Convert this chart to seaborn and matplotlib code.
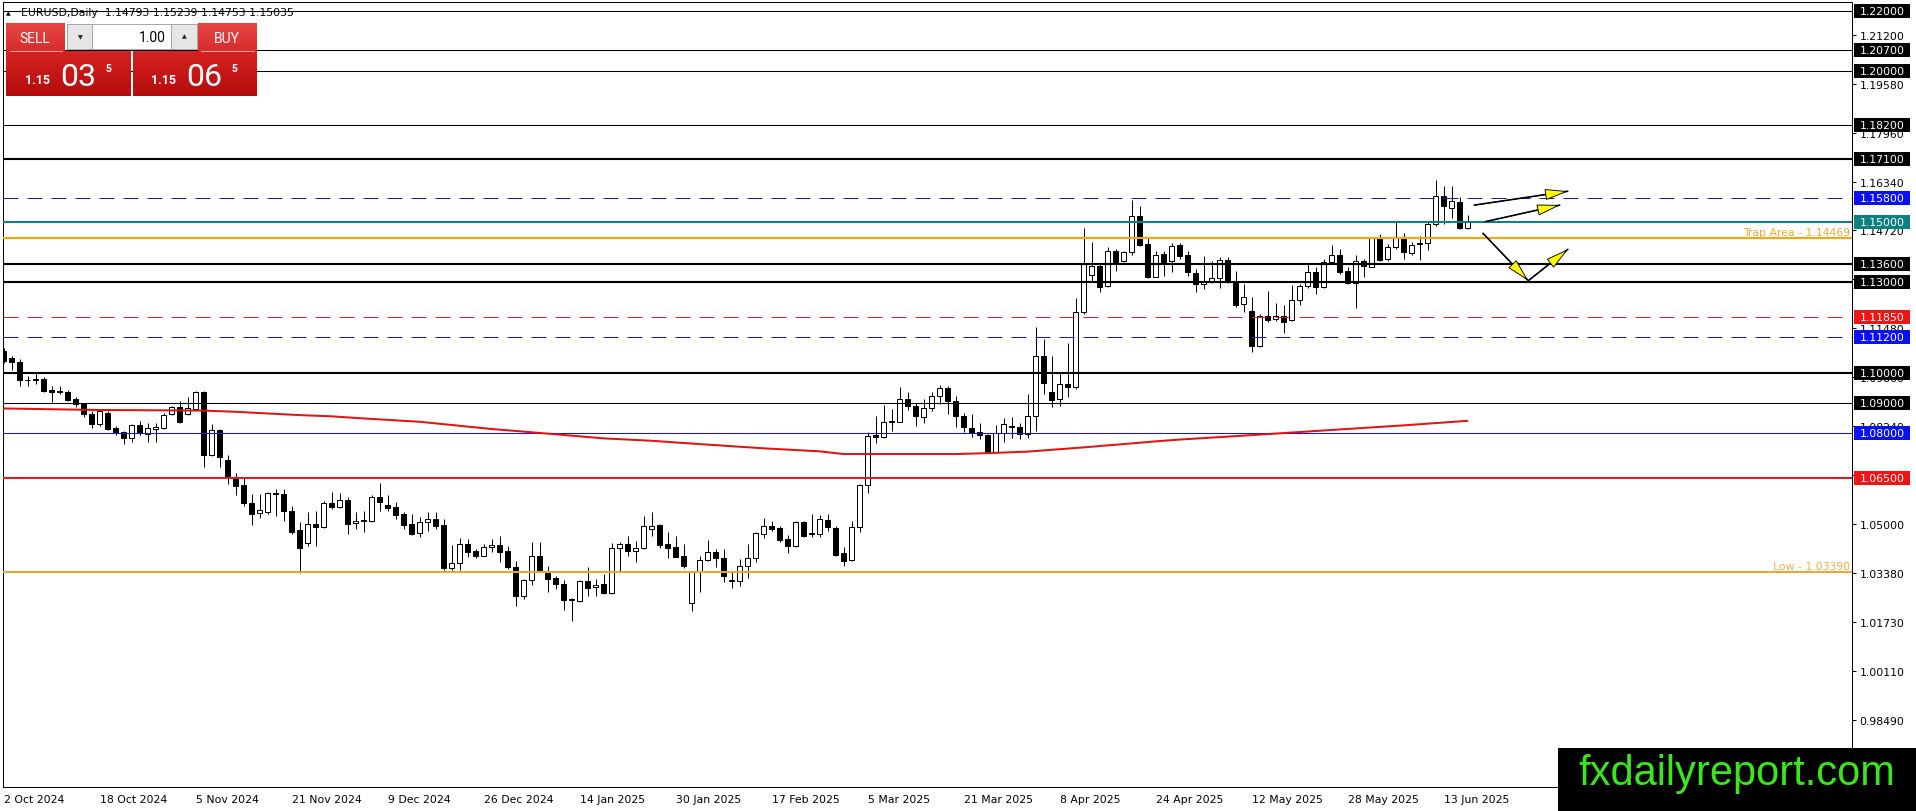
import numpy as np
import pandas as pd
import seaborn as sns
import matplotlib.pyplot as plt
from matplotlib.patches import Rectangle
from matplotlib.colors import LinearSegmentedColormap
import matplotlib.transforms as mtransforms

# ---- chart data (EURUSD daily, 2 Oct 2024 - 18 Jun 2025) ----
opens = [1.1074, 1.1048, 1.1035, 1.0977, 1.0976, 1.0979, 1.0943, 1.0939, 1.0938, 1.0913,
         1.0896, 1.0864, 1.0830, 1.0867, 1.0817, 1.0803, 1.0783, 1.0828, 1.0796, 1.0814,
         1.0816, 1.0864, 1.0886, 1.0864, 1.0880, 1.0935, 1.0729, 1.0811, 1.0711, 1.0656,
         1.0628, 1.0569, 1.0534, 1.0538, 1.0601, 1.0599, 1.0543, 1.0479, 1.0435, 1.0499,
         1.0490, 1.0569, 1.0554, 1.0579, 1.0501, 1.0509, 1.0510, 1.0588, 1.0562, 1.0555,
         1.0532, 1.0499, 1.0468, 1.0505, 1.0516, 1.0496, 1.0355, 1.0369, 1.0432, 1.0410,
         1.0394, 1.0422, 1.0430, 1.0410, 1.0356, 1.0262, 1.0312, 1.0392, 1.0345, 1.0321,
         1.0301, 1.0248, 1.0245, 1.0309, 1.0290, 1.0301, 1.0271, 1.0419, 1.0432, 1.0411,
         1.0419, 1.0481, 1.0496, 1.0433, 1.0422, 1.0392, 1.0237, 1.0339, 1.0381, 1.0405,
         1.0385, 1.0310, 1.0309, 1.0361, 1.0385, 1.0466, 1.0494, 1.0486, 1.0450, 1.0425,
         1.0505, 1.0468, 1.0466, 1.0513, 1.0485, 1.0403, 1.0381, 1.0488, 1.0628, 1.0794,
         1.0786, 1.0838, 1.0838, 1.0915, 1.0889, 1.0853, 1.0882, 1.0924, 1.0949, 1.0908,
         1.0856, 1.0816, 1.0803, 1.0794, 1.0739, 1.0801, 1.0825, 1.0819, 1.0797, 1.0856,
         1.1055, 1.0938, 1.0915, 1.0963, 1.0952, 1.1203, 1.1324, 1.1353, 1.1287, 1.1403,
         1.1369, 1.1399, 1.1519, 1.1427, 1.1319, 1.1394, 1.1370, 1.1424, 1.1390, 1.1330,
         1.1293, 1.1306, 1.1315, 1.1374, 1.1306, 1.1227, 1.1205, 1.1088, 1.1188, 1.1179,
         1.1190, 1.1175, 1.1243, 1.1287, 1.1333, 1.1283, 1.1368, 1.1390, 1.1336, 1.1298,
         1.1372, 1.1352, 1.1446, 1.1377, 1.1418, 1.1448, 1.1397, 1.1427, 1.1430, 1.1493,
         1.1587, 1.1545, 1.1567, 1.14793]
highs = [1.1083, 1.1057, 1.1046, 1.0991, 1.1002, 1.0985, 1.0958, 1.0958, 1.0942, 1.0919,
         1.0900, 1.0875, 1.0878, 1.0875, 1.0825, 1.0808, 1.0830, 1.0842, 1.0833, 1.0833,
         1.0866, 1.0890, 1.0908, 1.0919, 1.0941, 1.0941, 1.0831, 1.0814, 1.0729, 1.0668,
         1.0654, 1.0599, 1.0599, 1.0604, 1.0615, 1.0615, 1.0560, 1.0505, 1.0538, 1.0543,
         1.0577, 1.0604, 1.0601, 1.0588, 1.0538, 1.0543, 1.0595, 1.0634, 1.0596, 1.0571,
         1.0540, 1.0532, 1.0524, 1.0538, 1.0538, 1.0516, 1.0428, 1.0452, 1.0450, 1.0416,
         1.0433, 1.0450, 1.0461, 1.0427, 1.0378, 1.0318, 1.0438, 1.0438, 1.0359, 1.0328,
         1.0315, 1.0253, 1.0314, 1.0356, 1.0317, 1.0334, 1.0436, 1.0438, 1.0461, 1.0444,
         1.0525, 1.0538, 1.0499, 1.0472, 1.0461, 1.0433, 1.0345, 1.0394, 1.0446, 1.0416,
         1.0416, 1.0339, 1.0383, 1.0433, 1.0472, 1.0518, 1.0510, 1.0494, 1.0463, 1.0510,
         1.0510, 1.0532, 1.0528, 1.0532, 1.0494, 1.0422, 1.0510, 1.0632, 1.0803, 1.0858,
         1.0893, 1.0880, 1.0952, 1.0938, 1.0900, 1.0915, 1.0935, 1.0960, 1.0957, 1.0922,
         1.0867, 1.0864, 1.0834, 1.0797, 1.0827, 1.0849, 1.0853, 1.0834, 1.0930, 1.1153,
         1.1112, 1.1057, 1.1002, 1.1099, 1.1248, 1.1480, 1.1432, 1.1364, 1.1418, 1.1410,
         1.1405, 1.1574, 1.1552, 1.1446, 1.1403, 1.1405, 1.1430, 1.1430, 1.1405, 1.1344,
         1.1386, 1.1372, 1.1383, 1.1383, 1.1339, 1.1294, 1.1250, 1.1195, 1.1270, 1.1231,
         1.1225, 1.1291, 1.1294, 1.1364, 1.1350, 1.1377, 1.1423, 1.1412, 1.1350, 1.1391,
         1.1377, 1.1450, 1.1460, 1.1427, 1.1499, 1.1463, 1.1432, 1.1452, 1.1504, 1.1639,
         1.1620, 1.1620, 1.1583, 1.15239]
lows = [1.1032, 1.1011, 1.0955, 1.0958, 1.0963, 1.0935, 1.0904, 1.0930, 1.0907, 1.0886,
        1.0853, 1.0816, 1.0825, 1.0812, 1.0794, 1.0764, 1.0772, 1.0794, 1.0772, 1.0772,
        1.0814, 1.0860, 1.0834, 1.0860, 1.0878, 1.0687, 1.0726, 1.0689, 1.0632, 1.0596,
        1.0560, 1.0497, 1.0518, 1.0532, 1.0527, 1.0510, 1.0466, 1.0336, 1.0427, 1.0427,
        1.0485, 1.0549, 1.0552, 1.0466, 1.0483, 1.0472, 1.0507, 1.0543, 1.0543, 1.0515,
        1.0483, 1.0463, 1.0455, 1.0477, 1.0483, 1.0348, 1.0348, 1.0348, 1.0389, 1.0385,
        1.0392, 1.0405, 1.0374, 1.0350, 1.0226, 1.0250, 1.0297, 1.0339, 1.0273, 1.0284,
        1.0215, 1.0179, 1.0242, 1.0262, 1.0262, 1.0267, 1.0266, 1.0345, 1.0394, 1.0374,
        1.0416, 1.0461, 1.0419, 1.0385, 1.0389, 1.0352, 1.0212, 1.0273, 1.0378, 1.0356,
        1.0308, 1.0286, 1.0295, 1.0319, 1.0374, 1.0452, 1.0477, 1.0438, 1.0403, 1.0422,
        1.0455, 1.0455, 1.0455, 1.0477, 1.0394, 1.0361, 1.0378, 1.0474, 1.0602, 1.0767,
        1.0783, 1.0808, 1.0836, 1.0878, 1.0825, 1.0834, 1.0875, 1.0897, 1.0864, 1.0819,
        1.0803, 1.0786, 1.0781, 1.0737, 1.0737, 1.0770, 1.0783, 1.0781, 1.0783, 1.0808,
        1.0930, 1.0886, 1.0891, 1.0919, 1.0946, 1.1195, 1.1300, 1.1269, 1.1283, 1.1339,
        1.1366, 1.1390, 1.1421, 1.1313, 1.1316, 1.1320, 1.1333, 1.1377, 1.1322, 1.1269,
        1.1278, 1.1298, 1.1280, 1.1298, 1.1217, 1.1200, 1.1068, 1.1085, 1.1168, 1.1173,
        1.1132, 1.1172, 1.1225, 1.1280, 1.1261, 1.1280, 1.1366, 1.1327, 1.1295, 1.1214,
        1.1316, 1.1350, 1.1372, 1.1372, 1.1410, 1.1377, 1.1390, 1.1375, 1.1408, 1.1488,
        1.1493, 1.1512, 1.1478, 1.14753]
closes = [1.1040, 1.1035, 1.0977, 1.0976, 1.0978, 1.0941, 1.0935, 1.0938, 1.0911, 1.0896,
          1.0864, 1.0830, 1.0873, 1.0814, 1.0805, 1.0783, 1.0828, 1.0800, 1.0816, 1.0819,
          1.0861, 1.0886, 1.0836, 1.0883, 1.0935, 1.0729, 1.0811, 1.0722, 1.0659, 1.0626,
          1.0568, 1.0532, 1.0545, 1.0601, 1.0600, 1.0543, 1.0474, 1.0421, 1.0499, 1.0490,
          1.0568, 1.0554, 1.0580, 1.0499, 1.0510, 1.0511, 1.0588, 1.0571, 1.0552, 1.0530,
          1.0497, 1.0466, 1.0505, 1.0516, 1.0494, 1.0355, 1.0369, 1.0432, 1.0408, 1.0394,
          1.0422, 1.0430, 1.0408, 1.0356, 1.0262, 1.0312, 1.0392, 1.0345, 1.0317, 1.0301,
          1.0249, 1.0250, 1.0309, 1.0287, 1.0298, 1.0271, 1.0419, 1.0432, 1.0411, 1.0419,
          1.0494, 1.0494, 1.0431, 1.0420, 1.0391, 1.0361, 1.0339, 1.0381, 1.0405, 1.0385,
          1.0328, 1.0313, 1.0361, 1.0385, 1.0468, 1.0494, 1.0483, 1.0447, 1.0425, 1.0505,
          1.0461, 1.0465, 1.0516, 1.0488, 1.0396, 1.0378, 1.0488, 1.0628, 1.0792, 1.0786,
          1.0836, 1.0842, 1.0915, 1.0889, 1.0856, 1.0882, 1.0924, 1.0949, 1.0908, 1.0856,
          1.0819, 1.0805, 1.0795, 1.0739, 1.0801, 1.0829, 1.0819, 1.0797, 1.0856, 1.1055,
          1.0965, 1.0911, 1.0963, 1.0952, 1.1203, 1.1363, 1.1353, 1.1283, 1.1403, 1.1366,
          1.1399, 1.1519, 1.1424, 1.1319, 1.1392, 1.1366, 1.1421, 1.1388, 1.1333, 1.1293,
          1.1302, 1.1315, 1.1373, 1.1306, 1.1225, 1.1253, 1.1088, 1.1190, 1.1176, 1.1190,
          1.1168, 1.1243, 1.1287, 1.1333, 1.1283, 1.1368, 1.1390, 1.1335, 1.1298, 1.1372,
          1.1353, 1.1446, 1.1375, 1.1418, 1.1448, 1.1399, 1.1425, 1.1429, 1.1493, 1.1587,
          1.1554, 1.1568, 1.1480, 1.15035]

# red moving average, read at a few bars
ma_idx = [0, 12, 25, 29, 37, 41, 45, 52, 61, 67, 75, 81, 87, 95, 102, 105, 119, 123,
          128, 131, 135, 140, 144, 147, 155, 165, 175, 183]
ma_val = [1.0882, 1.0877, 1.0875, 1.0871, 1.0860, 1.0856, 1.0849, 1.0838, 1.0814, 1.0801,
          1.0783, 1.0775, 1.0764, 1.0750, 1.0740, 1.0731, 1.0731, 1.0734, 1.0739, 1.0745,
          1.0753, 1.0764, 1.0773, 1.0779, 1.0792, 1.0809, 1.0826, 1.0841]

# date labels every 12 bars
date_idx = [0, 12, 24, 36, 48, 60, 72, 84, 96, 108, 120, 132, 144, 156, 168, 180]
date_lbl = ["2 Oct 2024", "18 Oct 2024", "5 Nov 2024", "21 Nov 2024", "9 Dec 2024",
            "26 Dec 2024", "14 Jan 2025", "30 Jan 2025", "17 Feb 2025", "5 Mar 2025",
            "21 Mar 2025", "8 Apr 2025", "24 Apr 2025", "12 May 2025", "28 May 2025",
            "13 Jun 2025"]

# plain price scale ticks
price_ticks = [1.21200, 1.19580, 1.17960, 1.16340, 1.14720, 1.13100, 1.11480, 1.09860,
               1.08240, 1.06620, 1.05000, 1.03380, 1.01730, 1.00110, 0.98490]

# horizontal levels: value, line colour, width(px), dashed, label box colour
level_val = [1.22, 1.207, 1.20, 1.182, 1.171, 1.158, 1.15, 1.14469, 1.136, 1.13,
             1.1185, 1.112, 1.10, 1.09, 1.08, 1.065, 1.0339]
level_col = ["black", "black", "black", "black", "black", "#1a1ab4", "#0e8080", "#ffa500",
             "black", "black", "#d42020", "#1a1ab4", "black", "black", "#1a1ab4", "#d42020",
             "#e2a93a"]
level_lw = [1, 1, 1, 1, 2, 1, 2, 2, 2, 2, 1, 1, 2, 1, 1, 2, 2]
level_dash = [False, False, False, False, False, True, False, False, False, False,
              True, True, False, False, False, False, False]
level_box = ["black", "black", "black", "black", "black", "#0a10f0", "#0a8080", None,
             "black", "black", "#f01414", "#0a10f0", "black", "black", "#0a10f0", "#f01414",
             None]

# arrows drawn on the chart (bar, price) -> (bar, price)
arrows = [((183.8, 1.15556), (195.6, 1.16020)),
          ((185.2, 1.15009), (194.6, 1.15563)),
          ((184.9, 1.14634), (190.6, 1.13053)),
          ((190.6, 1.13053), (195.6, 1.14103))]

# ---- figure setup ----
W, H = 1916, 812
sns.set_style("white")
plt.rcParams['font.family'] = ['DejaVu Sans']
px = 0.72  # one pixel in points at dpi 100

fig = plt.figure(figsize=(W / 100, H / 100), dpi=100)
ax = fig.add_axes([3 / W, 1 - 788 / H, (1852 - 3) / W, (788 - 3) / H])
ax.set_xlim(-0.0625, (1852 - 3.5) / 8)
ax.set_ylim(1.22 - (788 - 11.7) / 3018, 1.22 + (11.7 - 3) / 3018)

df = pd.DataFrame({"o": opens, "h": highs, "l": lows, "c": closes})
df["i"] = np.arange(len(df))
df["bull"] = df["c"] >= df["o"]

# candles: wicks then bodies
ax.vlines(df["i"], df["l"], df["h"], color="black", lw=1.0 * px, zorder=2)
body_bottom = df[["o", "c"]].min(axis=1)
body_h = (df["c"] - df["o"]).abs().clip(lower=0.00004)
ax.bar(df["i"], body_h, bottom=body_bottom, width=0.625,
       color=np.where(df["bull"], "white", "black"), edgecolor="black",
       linewidth=1.0 * px, zorder=3)

# levels
for v, col, lw, dash in zip(level_val, level_col, level_lw, level_dash):
    if dash:
        ax.axhline(v, color=col, lw=lw * px, dashes=(15, 9), zorder=4)
    else:
        ax.axhline(v, color=col, lw=lw * px * 1.05, zorder=4)

# moving average
sns.lineplot(x=ma_idx, y=ma_val, ax=ax, color="#e01212", lw=2 * px, zorder=5)

# arrows: black shaft, yellow head
for (x0, y0), (x1, y1) in arrows:
    ax.plot([x0, x1], [y0, y1], color="black", lw=1.6 * px, zorder=6,
            solid_capstyle="butt")
    ax.annotate("", xy=(x1, y1), xytext=(x0, y0), zorder=7,
                arrowprops=dict(arrowstyle="-|>,head_length=1.25,head_width=0.3",
                                fc="#ffff00", ec="black", lw=0.9 * px,
                                mutation_scale=12, shrinkA=0, shrinkB=0))

# level captions
ax.text(0.9988, 1.14469 + 0.0003, "Trap Area - 1.14469", transform=ax.get_yaxis_transform(),
        ha="right", va="bottom", fontsize=7.8, color="#f5a93a", zorder=6)
ax.text(0.9988, 1.0339 + 0.0003, "Low - 1.03390", transform=ax.get_yaxis_transform(),
        ha="right", va="bottom", fontsize=7.8, color="#eeb04e", zorder=6)

# axes look
for s in ax.spines.values():
    s.set_color("black")
    s.set_linewidth(1.0 * px)
ax.yaxis.tick_right()
ax.set_yticks(price_ticks)
ax.set_yticklabels([f"{t:.5f}" for t in price_ticks])
ax.set_xticks(date_idx)
ax.set_xticklabels(date_lbl, ha="left")
ax.tick_params(axis="y", direction="out", length=3, width=px, pad=2.5,
               labelsize=7.8, colors="black")
ax.tick_params(axis="x", direction="out", length=3.5, width=px, pad=1.5,
               labelsize=7.8, colors="black")
ax.set_xlabel("")
ax.set_ylabel("")

# coloured price boxes on the right scale
box_tr = mtransforms.blended_transform_factory(fig.transFigure, ax.transData)
box_h = 14 / 3018
for v, bc in zip(level_val, level_box):
    if bc is None:
        continue
    ax.add_patch(Rectangle((1854 / W, v - box_h / 2), 56 / W, box_h, transform=box_tr,
                           facecolor=bc, edgecolor="none", clip_on=False, zorder=10))
    ax.text(1860 / W, v, f"{v:.5f}", transform=box_tr, ha="left", va="center",
            fontsize=7.8, color="white", clip_on=False, zorder=11)

# ---- overlay in pixel coordinates: header, trade panel, watermark ----
ov = fig.add_axes([0, 0, 1, 1], zorder=20)
ov.set_xlim(0, W)
ov.set_ylim(H, 0)
ov.axis("off")

ov.text(8, 13.5, "\u25b2", fontsize=4.5, ha="center", va="center", color="black")
ov.text(21, 13.5, "EURUSD,Daily  1.14793 1.15239 1.14753 1.15035", fontsize=7.8,
        ha="left", va="center", color="black")

top_cmap = LinearSegmentedColormap.from_list("top", ["#e84646", "#d82c2c"])
low_cmap = LinearSegmentedColormap.from_list("low", ["#d62222", "#b40c0c"])
grad = np.linspace(0, 1, 64)[:, None]

def red_box(x0, x1, y0, y1, cmap):
    ov.imshow(grad, extent=(x0, x1, y1, y0), cmap=cmap, aspect="auto",
              interpolation="bilinear", zorder=1)

red_box(6, 65, 24, 52, top_cmap)
red_box(198, 257, 24, 52, top_cmap)
red_box(6, 131, 52, 97, low_cmap)
red_box(133, 257, 52, 97, low_cmap)
ov.plot([10, 62], [51.5, 51.5], color="#f3a0a0", lw=px, zorder=2)
ov.plot([201, 254], [51.5, 51.5], color="#f3a0a0", lw=px, zorder=2)

# lot size spinner
ov.add_patch(Rectangle((67, 25), 25, 25, facecolor="#e6e6e6", edgecolor="#a8a8a8",
                       lw=px, zorder=2))
ov.add_patch(Rectangle((92, 25), 79, 25, facecolor="white", edgecolor="#a8a8a8",
                       lw=px, zorder=2))
ov.add_patch(Rectangle((171, 25), 26, 25, facecolor="#e6e6e6", edgecolor="#a8a8a8",
                       lw=px, zorder=2))
ov.text(80, 38, "\u25bc", fontsize=4.5, ha="center", va="center", color="#202020", zorder=3)
ov.text(184, 37, "\u25b2", fontsize=4.5, ha="center", va="center", color="#202020", zorder=3)
ov.text(166, 37.5, "1.00", fontsize=10, ha="right", va="center", color="black",
        family=["Roboto", "DejaVu Sans"], zorder=3)

ov.text(35, 39, "SELL", fontsize=10, ha="center", va="center", color="white",
        family=["Roboto", "DejaVu Sans"], zorder=3)
ov.text(227, 39, "BUY", fontsize=10, ha="center", va="center", color="white",
        family=["Roboto", "DejaVu Sans"], zorder=3)

for x_small, x_big, x_sup, big in [(25, 60, 106, "03"), (151, 186, 232, "06")]:
    ov.text(x_small, 84, "1.15", fontsize=9, fontweight="bold", ha="left",
            va="baseline", color="white", family=["Roboto", "DejaVu Sans"], zorder=3)
    ov.text(x_big, 85.5, big, fontsize=23, ha="left", va="baseline", color="white",
            family=["Roboto", "DejaVu Sans"], zorder=3)
    ov.text(x_sup, 72, "5", fontsize=7.5, fontweight="bold", ha="left",
            va="baseline", color="white", family=["Roboto", "DejaVu Sans"], zorder=3)

# watermark
ov.add_patch(Rectangle((1558, 749), W - 1558, H - 749, facecolor="black",
                       edgecolor="none", zorder=5))
ov.text(1737, 785, "fxdailyreport.com", fontsize=30, ha="center", va="baseline",
        color="#3ce61e", family=["Liberation Sans", "DejaVu Sans"], zorder=6)

fig.savefig("out.png", dpi=100)
